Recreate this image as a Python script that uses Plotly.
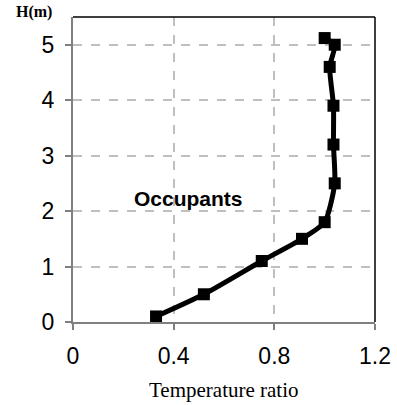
import plotly.graph_objects as go

temp_ratio = [0.33, 0.52, 0.75, 0.91, 1.0, 1.04, 1.035, 1.035, 1.02, 1.04, 1.0]
height_m = [0.1, 0.5, 1.1, 1.5, 1.8, 2.5, 3.2, 3.9, 4.6, 5.0, 5.12]
x_ticks = [0, 0.4, 0.8, 1.2]
x_labels = ["0", "0.4", "0.8", "1.2"]
y_ticks = [0, 1, 2, 3, 4, 5]

L, R, T, B = 73, 22, 17, 83
W, H = 397, 405
plot_w = W - L - R
plot_h = H - T - B

fig = go.Figure()
fig.add_trace(go.Scatter(
    x=temp_ratio, y=height_m, mode="lines+markers",
    line=dict(color="black", width=5, shape="spline", smoothing=0.6),
    marker=dict(symbol="square", size=12, color="black"),
    showlegend=False,
))

fig.update_layout(
    width=W, height=H,
    margin=dict(l=L, r=R, t=T, b=B, autoexpand=False),
    plot_bgcolor="white", paper_bgcolor="white",
    font=dict(family="Arial, Liberation Sans", size=23, color="black"),
    annotations=[
        dict(text="<b>H(m)</b>", x=0, y=1, xref="paper", yref="paper",
             xanchor="left", yanchor="middle", xshift=-59, yshift=5,
             showarrow=False,
             font=dict(family="Times New Roman, Liberation Serif", size=16)),
        dict(text="<b>Occupants</b>", x=0.46, y=2.22, xref="x", yref="y",
             xanchor="center", yanchor="middle", showarrow=False,
             font=dict(family="Arial, Liberation Sans", size=21)),
        dict(text="Temperature ratio", x=0.5, y=0, xref="paper", yref="paper",
             xanchor="center", yanchor="middle", showarrow=False, yshift=-68,
             font=dict(family="Times New Roman, Liberation Serif", size=21)),
    ],
)

fig.update_xaxes(
    range=[0, 1.2], tickvals=x_ticks, ticktext=x_labels, automargin=False,
    showgrid=True, gridcolor="#bfbfbf", griddash="dash", gridwidth=1.5,
    showline=True, linecolor="#808080", linewidth=2, mirror=False,
    ticks="outside", ticklen=6, tickcolor="#808080", tickwidth=1.5,
    zeroline=False, ticklabelstandoff=6,
)
fig.update_yaxes(
    range=[0, 5.5], tickvals=y_ticks, automargin=False,
    showgrid=True, gridcolor="#bfbfbf", griddash="dash", gridwidth=1.5,
    showline=True, linecolor="#808080", linewidth=2,
    ticks="outside", ticklen=6, tickcolor="#808080", tickwidth=1.5,
    zeroline=False, ticklabelstandoff=6,
)
# top and right black border
fig.add_shape(type="line", xref="paper", yref="paper", x0=0, x1=1, y0=1, y1=1,
              line=dict(color="black", width=1.5))
fig.add_shape(type="line", xref="paper", yref="paper", x0=1, x1=1, y0=0, y1=1,
              line=dict(color="black", width=1.5))

fig.write_html("out.html")
